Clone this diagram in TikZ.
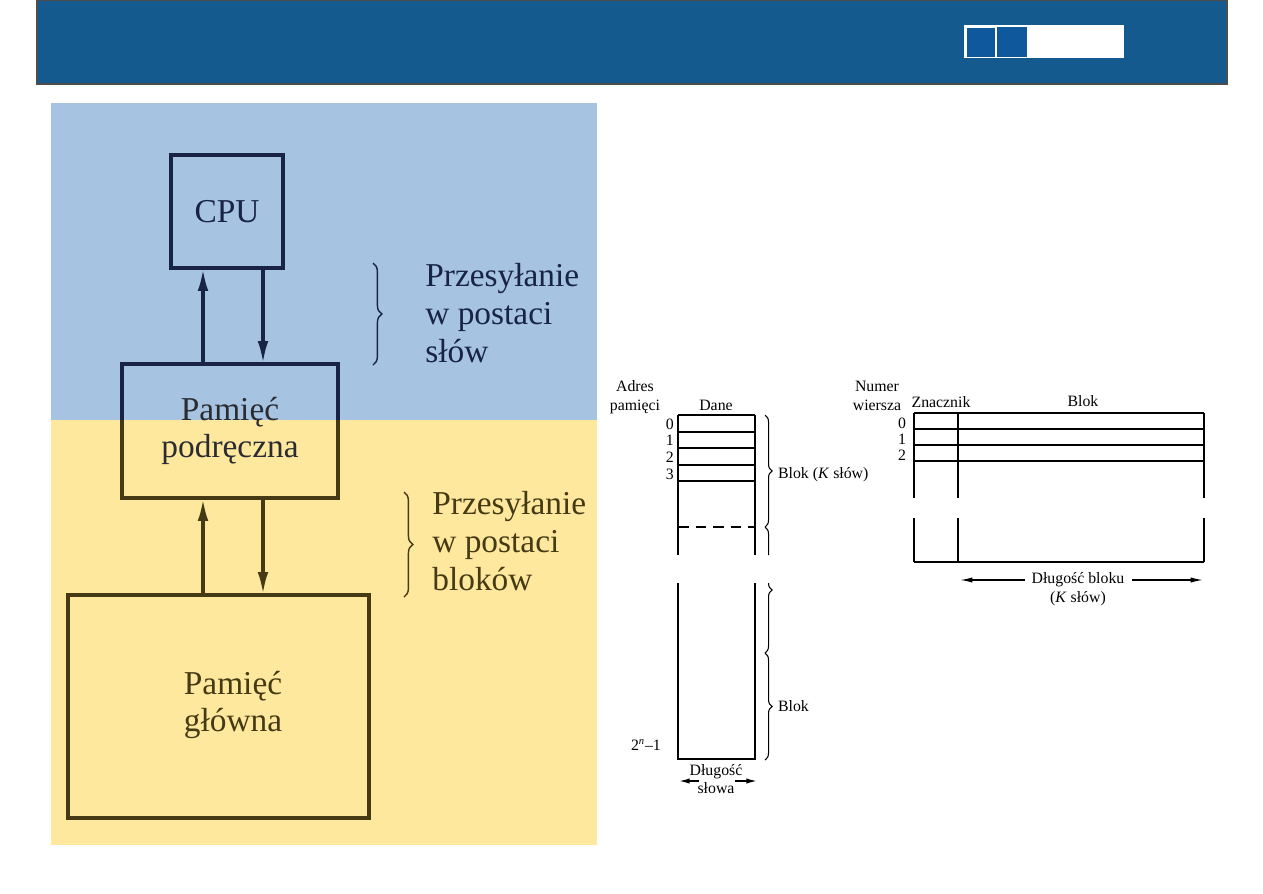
\documentclass[tikz,border=0pt]{standalone}
\usepackage{fontspec}
\setmainfont{Liberation Serif}
\usetikzlibrary{arrows.meta,positioning,calc,decorations.pathreplacing}
\definecolor{hdrblue}{RGB}{21,90,143}
\definecolor{sqblue}{RGB}{16,88,156}
\definecolor{skyfill}{RGB}{166,196,226}
\definecolor{sandfill}{RGB}{254,232,158}
\definecolor{navyink}{RGB}{25,35,70}
\definecolor{oliveink}{RGB}{70,58,20}

\begin{document}
\begin{tikzpicture}[x=0.02cm,y=-0.02cm,
  big/.style={font=\fontsize{19}{21.5}\selectfont,align=center,inner sep=0pt},
  sm/.style={font=\fontsize{9}{10.5}\selectfont,align=center,inner sep=1pt},
  unitbox/.style={draw,line width=2pt,inner sep=0pt,outer sep=0pt},
  fat/.style={line width=2pt,-{Latex[length=13pt,width=6pt]}},
  thinl/.style={line width=0.8pt},
  brc/.style={decorate,decoration={brace,amplitude=#1}}]
\useasboundingbox (0,0) rectangle (1263,893);
% header
\fill[hdrblue] (37,0) rectangle (1227,84);
\draw[black!70,line width=0.6pt] (37,0) rectangle (1227,84);
\fill[white] (964,25) rectangle (1124,58);
\fill[sqblue] (967,28) rectangle (995,57);
\fill[sqblue] (997,27) rectangle (1027,57);
% left panel
\fill[skyfill] (51,103) rectangle (597,420);
\fill[sandfill] (51,420) rectangle (597,845);
\node[unitbox,draw=navyink,minimum width=2.24cm,minimum height=2.26cm] (cpu) at (227,211.5) {};
\node[big,text=navyink] (cputxt) at (cpu.center) {CPU};
\node[unitbox,draw=navyink,minimum width=4.32cm,minimum height=2.68cm] (cache) at (230,431) {};
\begin{scope}
  \clip (51,420) rectangle (597,845);
  \draw[line width=2pt,oliveink] (cache.north west) rectangle (cache.south east);
\end{scope}
\node[big,text=navyink!60!oliveink] (cachetxt) at (230,431) {Pamięć\\podręczna};
\node[unitbox,draw=oliveink,minimum width=6.02cm,minimum height=4.46cm] (mainmem) at (218.5,706.5) {};
\node[big,text=oliveink] (maintxt) at (233,705) {Pamięć\\główna};
\coordinate (upx) at (203,0);
\coordinate (dnx) at (263,0);
\draw[fat,navyink] (upx |- cache.north) -- (upx |- cpu.south);
\draw[fat,navyink] (dnx |- cpu.south) -- (dnx |- cache.north);
\draw[fat,oliveink] (upx |- mainmem.north) -- (upx |- cache.south);
\draw[fat,oliveink] (dnx |- cache.south) -- (dnx |- mainmem.north);
\draw[brc=5pt,navyink,line width=0.8pt] (373,263) -- (373,365);
\node[big,align=left,anchor=west,text=navyink] (wordtx) at (425,313) {Przesyłanie\\w postaci\\słów};
\draw[brc=5pt,oliveink,line width=0.8pt] (404,492) -- (404,597);
\node[big,align=left,anchor=west,text=oliveink] (blocktx) at (432,541) {Przesyłanie\\w postaci\\bloków};
% main memory layout
\node[sm] (adres) at (635,397) {Adres\\pamięci};
\node[sm] (dane) at (716,405) {Dane};
\foreach \y in {415,432,448,465,481}
  \draw[thinl] (678,\y) -- (755,\y);
\foreach \y/\t in {424/0,440/1,457/2,474/3}
  \node[sm,anchor=east] (m\t) at (676,\y) {\t};
\draw[thinl] (678,415) -- (678,555) (755,415) -- (755,555);
\draw[thinl] (678,583) -- (678,759) -- (755,759) -- (755,583);
\draw[thinl,dash pattern=on 6pt off 4pt] (678,527) -- (755,527);
\node[sm,anchor=east] (last) at (663,745) {2\textsuperscript{\textit{n}}–1};
\draw[brc=4pt,line width=0.6pt] (765,415) -- (765,527);
\node[sm,anchor=west] (blk1) at (776,475) {Blok (\textit{K} słów)};
\begin{scope}
  \clip (755,520) rectangle (790,555) (755,583) rectangle (790,660);
  \draw[brc=4pt,line width=0.6pt] (765,527) -- (765,653);
\end{scope}
\draw[brc=4pt,line width=0.6pt] (765,653) -- (765,760);
\node[sm,anchor=west] (blk2) at (776,706) {Blok};
\node[sm] (dlsl) at (716,779) {Długość\\słowa};
\coordinate (wl) at (679,781);
\coordinate (wr) at (757,781);
\draw[thinl,-{Latex[length=6pt,width=3pt]}] (699,781) -- (wl);
\draw[thinl,-{Latex[length=6pt,width=3pt]}] (735,781) -- (wr);
% cache layout
\node[sm] (numer) at (877,396) {Numer\\wiersza};
\node[sm] (znacz) at (941,402) {Znacznik};
\node[sm] (blokh) at (1083,401) {Blok};
\foreach \y in {413,429,445,461}
  \draw[thinl] (914,\y) -- (1204,\y);
\foreach \y/\t in {423/0,439/1,455/2}
  \node[sm,anchor=east] (c\t) at (908,\y) {\t};
\foreach \x in {914,958,1204} {
  \draw[thinl] (\x,413) -- (\x,498);
  \draw[thinl] (\x,518) -- (\x,562);
}
\draw[thinl] (914,562) -- (1204,562);
\node[sm] (dlbl) at (1078,589) {Długość bloku\\(\textit{K} słów)};
\coordinate (bl) at (960,580);
\coordinate (br) at (1203,580);
\draw[thinl,-{Latex[length=7pt,width=3pt]}] (1025,580) -- (bl);
\draw[thinl,-{Latex[length=7pt,width=3pt]}] (1132,580) -- (br);
\end{tikzpicture}
\end{document}
